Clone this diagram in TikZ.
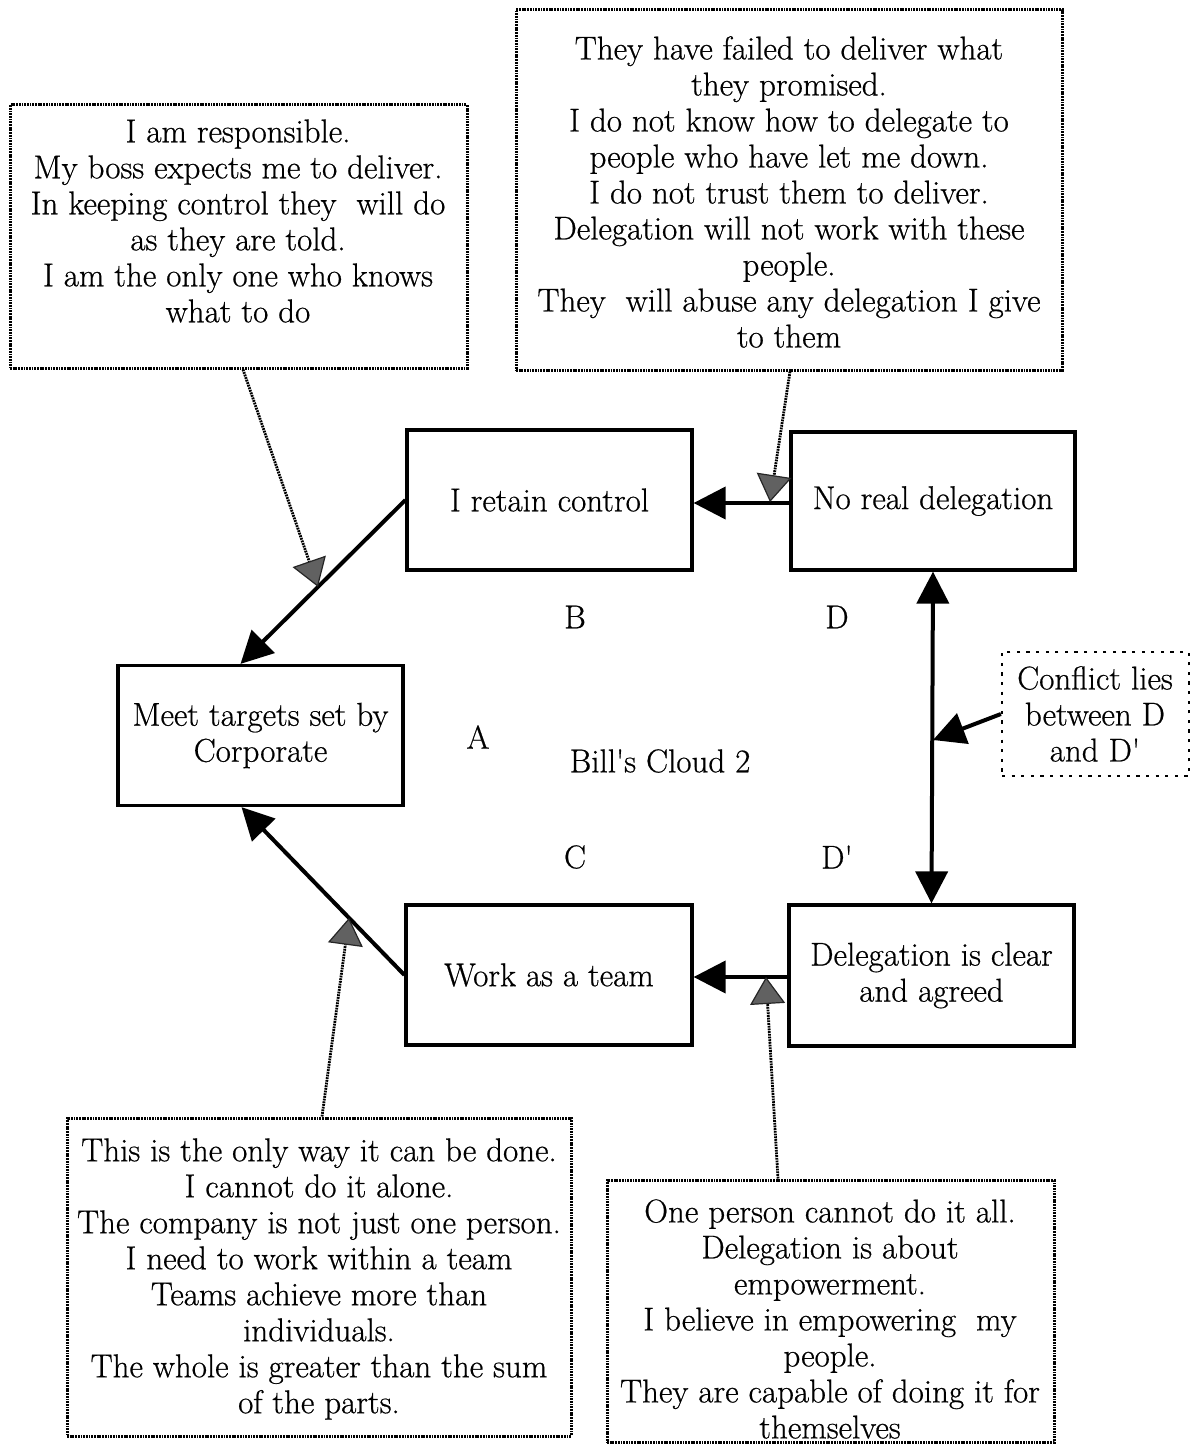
\documentclass[tikz,border=0pt]{standalone}
\usepackage{fontspec}
\setmainfont{Latin Modern Roman}[UprightFeatures={FakeBold=0.6}]
\usetikzlibrary{arrows.meta,calc}

\tikzset{
  cloudbox/.style={draw, line width=1.6pt, minimum width=#1},
  mainarrow/.style={line width=2pt, -{Triangle[length=16pt,width=16pt]}},
  assumbox/.style={draw, line width=1.5pt, dash pattern=on 0.9pt off 0.45pt},
  assumline/.style={line width=1.4pt, dash pattern=on 0.9pt off 0.45pt,
    -{Triangle[length=13.5pt,width=17.5pt,fill=black!62,color=black!85,line width=0.6pt]}},
  conflictbox/.style={draw, line width=1.1pt, dash pattern=on 1.6pt off 3.2pt},
  txt/.style={align=center, font=\fontsize{16.5}{18}\selectfont, inner sep=0pt},
  lbl/.style={font=\fontsize{16.5}{18}\selectfont, inner sep=0pt}
}
% straight apostrophe
\newcommand{\sq}{\textquotesingle}

\begin{document}
\begin{tikzpicture}[x=0.5pt, y=-0.5pt]
  \useasboundingbox (0,0) rectangle (1191,1444);

  % the five entities of the cloud
  \node[cloudbox=142.5pt, minimum height=70pt, txt] (A) at (260.5,735.5) {Meet targets set by\\Corporate};
  \node[cloudbox=142.5pt, minimum height=70pt, txt] (B) at (549.5,500) {I retain control};
  \node[cloudbox=143pt, minimum height=70pt, txt] (C) at (549,975) {Work as a team};
  \node[cloudbox=142pt, minimum height=69pt, txt] (D) at (933,501) {No real delegation};
  \node[cloudbox=142.5pt, minimum height=70.5pt, txt] (Dp) at (931.5,975.5) {Delegation is clear\\and agreed};

  % letters and title
  \node[lbl] (lA) at (478,737) {A};
  \node[lbl] (lB) at (575,617) {B};
  \node[lbl] (lC) at (575,857) {C};
  \node[lbl] (lD) at (837,617) {D};
  \node[lbl] (lDp) at (837,857) {D\sq};
  \node[lbl] (title) at (660,761) {Bill\sq s Cloud 2};

  % necessity arrows
  \coordinate (Atop) at ($(A.north)+(-20,0)$);
  \coordinate (Abot) at ($(A.south)+(-19,0)$);
  \draw[mainarrow] (B.west) -- (Atop);
  \draw[mainarrow] (C.west) -- (Abot);
  \draw[mainarrow] (D.west |- 0,503) -- (B.east |- 0,503);
  \draw[mainarrow] (Dp.west |- 0,977) -- (C.east |- 0,977);

  % conflict between D and D'
  \draw[line width=2pt, {Triangle[length=16pt,width=16pt]}-{Triangle[length=16pt,width=16pt]}]
    (D.south) -- (Dp.north);
  \node[conflictbox, minimum width=93.5pt, minimum height=62pt] (cf) at (1095.5,714) {};
  \node[txt] (cft) at (1095,714) {Conflict lies\\between D\\and D\sq};
  \coordinate (cfhit) at (933,740);
  \draw[line width=2pt, -{Triangle[length=16pt,width=16pt]}] (cf.west) -- (cfhit);

  % assumption boxes
  \node[assumbox, minimum width=228.5pt, minimum height=131.5pt] (tl) at (238.5,236.5) {};
  \node[txt] (tlt) at (238,221) {I am responsible.\\My boss expects me to deliver.\\In keeping control they~ will do\\as they are told.\\I am the only one who knows\\what to do};

  \node[assumbox, minimum width=273pt, minimum height=180pt] (tr) at (789,190) {};
  \node[txt] (trt) at (789,192) {They have failed to deliver what\\they promised.\\I do not know how to delegate to\\people who have let me down.\\I do not trust them to deliver.\\Delegation will not work with these\\people.\\They~ will abuse any delegation I give\\to them};

  \node[assumbox, minimum width=252pt, minimum height=159pt] (bl) at (319,1277) {};
  \node[txt] (blt) at (319,1279) {This is the only way it can be done.\\I cannot do it alone.\\The company is not just one person.\\I need to work within a team\\Teams achieve more than\\individuals.\\The whole is greater than the sum\\of the parts.};

  \node[assumbox, minimum width=223.5pt, minimum height=131pt] (br) at (830.5,1311) {};
  \node[txt] (brt) at (830,1319) {One person cannot do it all.\\Delegation is about\\empowerment.\\I believe in empowering~ my\\people.\\They are capable of doing it for\\themselves};

  % assumption connectors onto the arrows they support
  \coordinate (onBA) at ($(B.west)!0.53!(Atop)$);
  \coordinate (onCA) at ($(C.west)!0.34!(Abot)$);
  \coordinate (onDB) at (770,502);
  \coordinate (onDpC) at (766,977);
  \draw[assumline] (tl.south -| 243,0) -- (onBA);
  \draw[assumline] (tr.south -| 790,0) -- (onDB);
  \draw[assumline] (bl.north -| 322,0) -- (onCA);
  \draw[assumline] (br.north -| 778,0) -- (onDpC);
\end{tikzpicture}
\end{document}
